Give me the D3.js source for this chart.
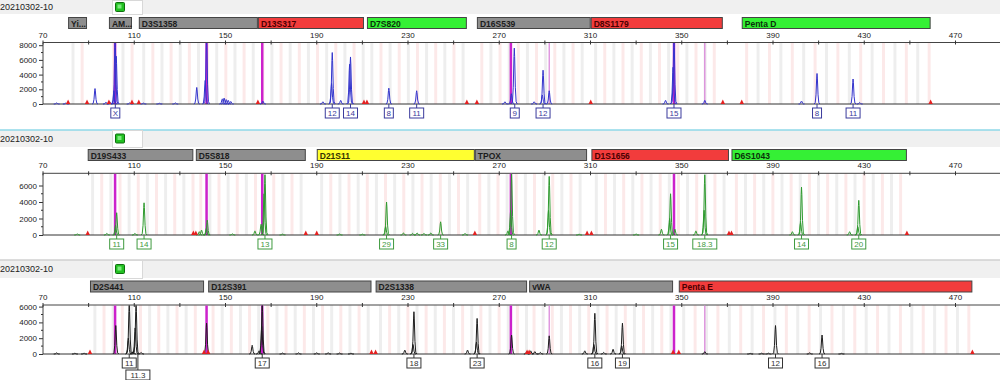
<!DOCTYPE html>
<html><head><meta charset="utf-8">
<script src="https://cdn.jsdelivr.net/npm/d3@7"></script>
<style>
html,body{margin:0;padding:0;background:#fff;}
svg{display:block;font-family:"Liberation Sans",Arial,sans-serif;}
</style></head>
<body><svg id="c" width="1000" height="380"></svg>
<script>
// ---------- DATA ----------
const sampleName = "20210302-10";
const sizeTicks = [70,110,150,190,230,270,310,350,390,430,470];

// loci: [name, start bp, end bp, colour key]
const loci1 = [["Yi...",81,89.3,"gray"],["AM...",98.9,109,"gray"],["D3S1358",112,164.2,"gray"],["D13S317",164.2,210.7,"red"],
  ["D7S820",212,255.8,"green"],["D16S539",260.2,310.1,"gray"],["D8S1179",310.1,368,"red"],["Penta D",376.3,459.1,"green"]];
const loci2 = [["D19S433",89.6,135.9,"gray"],["D5S818",137,185.2,"gray"],["D21S11",190,259.3,"yellow"],["TPOX",259.3,308.5,"gray"],
  ["D1S1656",310.4,370.7,"red"],["D6S1043",371.8,448.7,"green"]];
const loci3 = [["D2S441",90.6,140.6,"gray"],["D12S391",142.4,214,"gray"],["D2S1338",215.8,282.2,"gray"],["vWA",283.1,346.2,"gray"],
  ["Penta E",348.7,477.4,"red"]];

// peaks: [size bp, height RFU]
const peaks1 = [[76,150],[80,120],[92.8,2100],[97.6,250],[99.2,300],[101.1,1800],[101.6,9000],[102.1,6500],[108,150],[114,120],[121,100],[128,150],
  [137.4,2250],[141.1,3200],[141.7,9000],[148.6,700],[149.4,800],[150.3,600],[151.2,500],[152.3,350],[166.4,400],[192.7,300],[196.5,2800],[196.8,7000],
  [200.5,500],[204.4,5400],[204.8,6400],[221.6,2150],[233.8,1800],[272.5,300],[275.3,1400],[276.6,7600],[285.3,300],[288.9,1200],[289.2,4600],
  [291.9,1800],[342.9,500],[346.2,5000],[346.6,9000],[360.1,500],[402.5,400],[409.3,4150],[425.1,3400],[428,200]];
const peaks2 = [[85,150],[98,200],[101.8,1200],[102.3,2700],[110.3,200],[114.3,3900],[138.5,400],[139.5,600],[141.6,800],[142,1800],[153,150],
  [162.9,500],[165.6,1300],[166.9,5000],[167.3,7300],[175,100],[200,120],[210,100],[220.2,1000],[220.6,4000],[228,250],[232,200],[234,250],
  [237,200],[240,250],[244.3,1600],[255,200],[273.8,500],[275,3000],[275.4,7400],[287.4,600],[291.6,3000],[291.9,7100],[305,100],[330,120],
  [341.1,700],[344.7,2000],[345.1,5000],[347,700],[356.2,500],[359.8,3000],[360.1,7300],[398.5,400],[402.1,1500],[402.5,5800],[423.6,400],
  [427.2,1000],[427.6,4200]];
const peaks3 = [[76,150],[84,100],[88,100],[101.9,3600],[107.4,2000],[107.8,6300],[109.5,300],[110.4,3300],[110.8,6300],[113,200],[141.7,3900],
  [161.7,1100],[164.7,400],[165.9,3500],[166.1,6300],[175,120],[182,150],[190,150],[195,150],[200,120],[205,100],[228.6,500],[232.2,1200],
  [232.6,5350],[256.1,500],[260,1500],[260.3,4500],[275.4,2400],[282.1,300],[283.8,400],[285.6,300],[288,200],[291.9,2300],[307.5,400],
  [311.5,1200],[311.9,5150],[315.8,200],[319.9,600],[323.7,1000],[324,3900],[360.1,300],[380,80],[385,100],[388,100],[391.1,3600],[406.1,150],
  [411.5,2400],[420,80]];

// allele calls: [size bp, label, row]
const alleles1 = [[101.7,"X",0],[196.8,"12",0],[204.8,"14",0],[221.6,"8",0],[233.8,"11",0],[276.8,"9",0],[289.2,"12",0],[346.6,"15",0],[409.3,"8",0],[425.1,"11",0]];
const alleles2 = [[102.3,"11",0],[114.3,"14",0],[167.3,"13",0],[220.6,"29",0],[244.3,"33",0],[275.4,"8",0],[291.9,"12",0],[345.1,"15",0],[360.1,"18.3",0],[402.5,"14",0],[427.6,"20",0]];
const alleles3 = [[107.8,"11",0],[111.6,"11.3",1],[166.1,"17",0],[232.6,"18",0],[260.3,"23",0],[311.9,"16",0],[324,"19",0],[391.1,"12",0],[411.5,"16",0]];

// off-scale markers: [size bp, strong?]
const marks1 = [[101.6,1],[141.7,1],[166.1,1],[275.1,1],[291.9,0],[346.6,1],[360.1,0]];
const marks2 = [[101.6,1],[141.7,1],[166.1,1],[275.1,1],[346.6,1]];
const marks3 = [[101.6,1],[141.7,1],[166.1,1],[275.1,1],[291.9,0],[346.6,1],[360.1,0]];

const yTicks1 = [0,2000,4000,6000,8000];
const yTicks23 = [0,2000,4000,6000];

// ---------- DRAW ----------
const svg = d3.select("#c");
const x = d3.scaleLinear().domain([70,470]).range([43,955.5]);
const fills = {gray:"#8e8e8e",red:"#f23c3c",green:"#35f035",yellow:"#ffff30"};
const textC = {gray:"#1c1c1c",red:"#4a0000",green:"#0a300a",yellow:"#333300"};

const panels = [
 {hdr:0, hdrH:14, line:null, bar:17.5, axis:42.5, y:d3.scaleLinear().domain([0,8000]).range([104,45.2]), yt:yTicks1, yMinor:[1000,3000,5000,7000],
  loci:loci1, peaks:peaks1, alleles:alleles1, marks:marks1, col:"#3434cc", lab:"#3a3a9c"},
 {hdr:130, hdrH:17, line:"#8fd8e8", bar:149.5, axis:173.3, y:d3.scaleLinear().domain([0,6000]).range([235,185.5]), yt:yTicks23, yMinor:[1000,3000,5000],
  loci:loci2, peaks:peaks2, alleles:alleles2, marks:marks2, col:"#2f9a2f", lab:"#3f9a3f"},
 {hdr:260, hdrH:18, line:"#d0d0d0", bar:281, axis:305, y:d3.scaleLinear().domain([0,6000]).range([354,306.6]), yt:yTicks23, yMinor:[1000,3000,5000],
  loci:loci3, peaks:peaks3, alleles:alleles3, marks:marks3, col:"#1e1e1e", lab:"#333"}
];

const shapeOff = [-1.3,-0.8,-0.45,-0.15,0,0.15,0.45,0.8,1.3];
const shapeFr  = [0,0.04,0.3,0.85,1,0.85,0.3,0.04,0];

panels.forEach((p,i)=>{
  const g = svg.append("g");
  const base = p.y(0);
  // header band
  g.append("rect").attr("x",0).attr("y",p.hdr).attr("width",1000).attr("height",p.hdrH).attr("fill","#f0f0f0");
  if(p.line) g.append("line").attr("x1",0).attr("x2",1000).attr("y1",p.hdr).attr("y2",p.hdr).attr("stroke",p.line).attr("stroke-width",1.5);
  g.append("text").attr("x",0).attr("y",p.hdr+p.hdrH/2+3).attr("font-size",9).attr("fill","#222").text(sampleName);
  g.append("rect").attr("x",112.5).attr("y",p.hdr+0.5).attr("width",30).attr("height",p.hdrH).attr("fill","#fff").attr("stroke","#d8d8d8");
  g.append("rect").attr("x",115.5).attr("y",p.hdr+p.hdrH/2-4.5).attr("width",9).attr("height",9).attr("fill","#22c022").attr("stroke","#0e6e0e").attr("rx",1);
  g.append("rect").attr("x",117.5).attr("y",p.hdr+p.hdrH/2-2.5).attr("width",4).attr("height",4).attr("fill","#7dea7d");

  // bins
  const bins = g.append("g");
  p.loci.forEach((l,li)=>{
    const step = l[0].startsWith("Penta")?5:4;
    let k=0;
    for(let s=l[1]+1.5; s<l[2]-0.5; s+=step, k++){
      bins.append("rect").attr("x",x(s)).attr("y",p.axis).attr("width",x(s+1.3)-x(s)).attr("height",base-p.axis)
        .attr("fill",(k+li)%2? "#fce9e9":"#eeeeee");
    }
  });

  // locus bars
  p.loci.forEach(l=>{
    g.append("rect").attr("x",x(l[1])+0.5).attr("y",p.bar).attr("width",x(l[2])-x(l[1])-1).attr("height",11)
      .attr("fill",fills[l[3]]).attr("stroke","#444").attr("stroke-width",1);
    g.append("text").attr("x",x(l[1])+3).attr("y",p.bar+9).attr("font-size",8.5).attr("font-weight","bold").attr("fill",textC[l[3]]).text(l[0]);
  });

  // x axis
  g.append("line").attr("x1",43).attr("x2",1000).attr("y1",p.axis).attr("y2",p.axis).attr("stroke","#444");
  d3.range(70,480,20).forEach(v=>{
    g.append("line").attr("x1",x(v)).attr("x2",x(v)).attr("y1",p.axis-2).attr("y2",p.axis+2).attr("stroke","#333");
  });
  g.selectAll(null).data(sizeTicks).join("text").attr("x",d=>x(d)).attr("y",p.axis-5).attr("text-anchor","middle")
    .attr("font-size",8).attr("fill","#222").text(d=>d);

  // y axis
  const ya = d3.axisLeft(p.y).tickValues(p.yt).tickFormat(d3.format("d")).tickSize(4).tickPadding(2);
  const yg = g.append("g").attr("transform","translate(43,0)").call(ya);
  yg.select(".domain").remove();
  yg.selectAll("text").attr("font-size",8).attr("fill","#222").attr("font-family","Liberation Sans, Arial");
  yg.selectAll("line").attr("stroke","#333");
  g.append("line").attr("x1",43).attr("x2",43).attr("y1",p.axis).attr("y2",base).attr("stroke","#444");
  p.yMinor.forEach(v=>g.append("line").attr("x1",41).attr("x2",43).attr("y1",p.y(v)).attr("y2",p.y(v)).attr("stroke","#333"));

  // clip
  const cid = "clip"+i;
  svg.append("clipPath").attr("id",cid).append("rect").attr("x",43).attr("y",p.axis+0.5).attr("width",957).attr("height",base-p.axis+0.5);
  const pg = g.append("g").attr("clip-path",`url(#${cid})`);

  // magenta marks
  p.marks.forEach(m=>{
    pg.append("line").attr("x1",x(m[0])).attr("x2",x(m[0])).attr("y1",p.axis).attr("y2",base)
      .attr("stroke",m[1]?"#cc22cc":"#d880d8").attr("stroke-width",m[1]?2.5:1.2);
  });

  // baseline
  pg.append("line").attr("x1",43).attr("x2",1000).attr("y1",base).attr("y2",base).attr("stroke","#333").attr("stroke-width",1);

  // peaks
  const line = d3.line().x(d=>x(d[0])).y(d=>p.y(d[1]));
  p.peaks.forEach(pk=>{
    const pts = shapeOff.map((o,j)=>[pk[0]+o, pk[1]*shapeFr[j]]);
    pg.append("path").attr("d",line(pts)).attr("fill","none").attr("stroke",p.col).attr("stroke-width",1);
  });

  // red boundary triangles
  const edges = [];
  p.loci.forEach(l=>{[l[1],l[2]].forEach(e=>{ if(!edges.some(v=>Math.abs(v-e)<0.3)) edges.push(e); });});
  edges.forEach(e=>{
    const cx = x(e);
    g.append("path").attr("d",`M${cx-2.2},${base}L${cx},${base-4.5}L${cx+2.2},${base}Z`).attr("fill","#e52020");
  });

  // allele labels
  p.alleles.forEach(a=>{
    const cx = x(a[0]);
    const w = a[1].length*5 + 4;
    const top = base + 4 + a[2]*12;
    g.append("line").attr("x1",cx).attr("x2",cx).attr("y1",base).attr("y2",top).attr("stroke",p.lab);
    g.append("rect").attr("x",cx-w/2).attr("y",top).attr("width",w).attr("height",10).attr("fill","#fff").attr("stroke",p.lab);
    g.append("text").attr("x",cx).attr("y",top+8).attr("text-anchor","middle").attr("font-size",8).attr("fill",p.lab).text(a[1]);
  });
});
</script></body></html>
